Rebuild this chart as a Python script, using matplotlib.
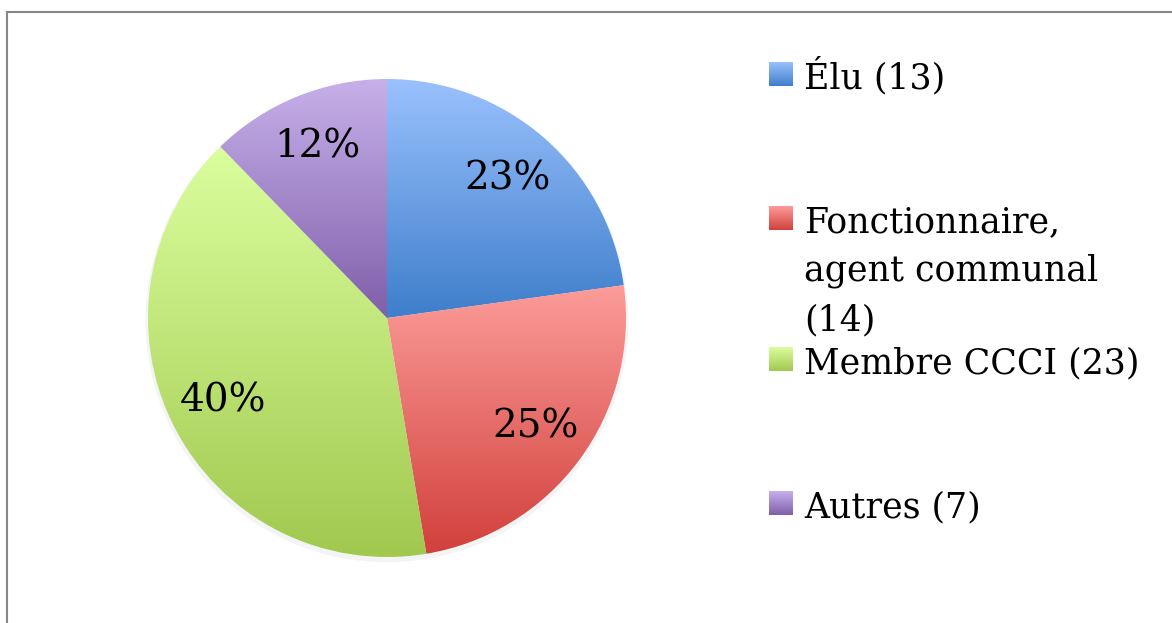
import numpy as np
import matplotlib
matplotlib.use("Agg")
import matplotlib.pyplot as plt
from matplotlib.lines import Line2D

# data
categories = ["Élu (13)", "Fonctionnaire,\nagent communal\n(14)", "Membre CCCI (23)", "Autres (7)"]
counts = [13, 14, 23, 7]
top_colors = ["#9AC1FD", "#FC9C99", "#DBFE9E", "#C7B0EA"]
bottom_colors = ["#3E7ECB", "#D1403C", "#A1C94F", "#7F5FA9"]

FONT = "DejaVu Serif"
W, H = 1172, 623


def gradient(c_top, c_bot, n=256):
    a = np.array(matplotlib.colors.to_rgb(c_top))
    b = np.array(matplotlib.colors.to_rgb(c_bot))
    t = np.linspace(0, 1, n)[:, None]
    return (a * (1 - t) + b * t)[:, None, :]


fig = plt.figure(figsize=(W / 100, H / 100), dpi=100)

# pie axes: centre (387, 318) px, radius 239 px
cx, cy, r = 387, 318, 239
ax = fig.add_axes([(cx - r) / W, (H - cy - r) / H, 2 * r / W, 2 * r / H])

# faint shadow
shadow = plt.Circle((0.0, -0.012), 1.01, color="#000000", alpha=0.045, lw=0, zorder=0)
shadow.set_clip_on(False)
ax.add_patch(shadow)

wedges, texts, autotexts = ax.pie(
    counts, startangle=90, counterclock=False, pctdistance=0.77,
    autopct=lambda p: f"{p:.0f}%",
    wedgeprops=dict(facecolor="none", edgecolor="none"),
    textprops=dict(fontsize=28, family=FONT, color="black"))

for w, ct, cb in zip(wedges, top_colors, bottom_colors):
    ext = w.get_path().get_extents()
    im = ax.imshow(gradient(ct, cb), extent=[ext.x0, ext.x1, ext.y0, ext.y1],
                   origin="upper", aspect="auto", zorder=1)
    im.set_clip_path(w)
for t in autotexts:
    t.set_zorder(5)

ax.set_xlim(-1, 1)
ax.set_ylim(-1, 1)
ax.set_aspect("equal")
ax.axis("off")

# overlay in pixel coordinates for frame and legend
ov = fig.add_axes([0, 0, 1, 1], zorder=-1)
ov.set_xlim(0, W)
ov.set_ylim(H, 0)
ov.axis("off")
ov.add_line(Line2D([7, 7], [12, H + 5], color="#868686", lw=1.5))
ov.add_line(Line2D([7, W + 5], [12, 12], color="#868686", lw=1.5))

ov2 = fig.add_axes([0, 0, 1, 1])
ov2.set_xlim(0, W)
ov2.set_ylim(H, 0)
ov2.axis("off")
baselines = [88, 232, 373, 517]
for lab, ct, cb, yb in zip(categories, top_colors, bottom_colors, baselines):
    ov2.imshow(gradient(ct, cb), extent=[769, 793, yb - 2, yb - 26],
               origin="upper", aspect="auto")
    for i, line in enumerate(lab.split("\n")):
        ov2.text(804, yb + i * 49, line, fontsize=25, family=FONT,
                 va="baseline", ha="left")
ov2.set_xlim(0, W)
ov2.set_ylim(H, 0)

fig.savefig("out.png", dpi=100)
